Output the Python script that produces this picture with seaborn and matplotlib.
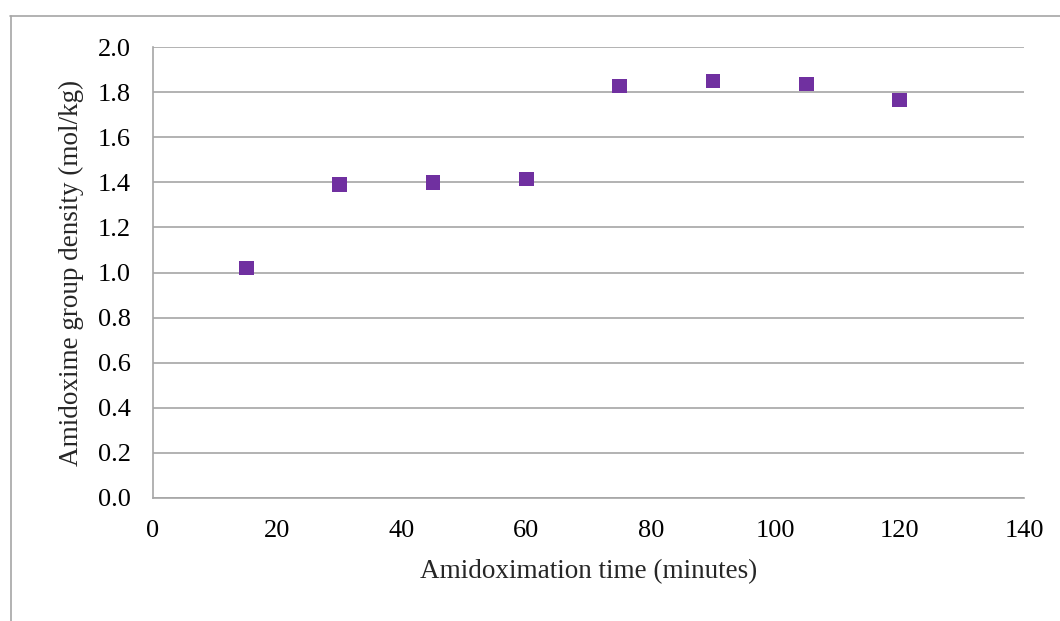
import numpy as np
import pandas as pd
import matplotlib
matplotlib.use("Agg")
import matplotlib.pyplot as plt
import seaborn as sns
from matplotlib.lines import Line2D

time_min = [15, 30, 45, 60, 75, 90, 105, 120]
density = [1.02, 1.39, 1.40, 1.415, 1.827, 1.849, 1.836, 1.765]
x_ticks = [0, 20, 40, 60, 80, 100, 120, 140]
y_ticks = [0.0, 0.2, 0.4, 0.6, 0.8, 1.0, 1.2, 1.4, 1.6, 1.8, 2.0]

df = pd.DataFrame({"time": time_min, "density": density})

sns.set_style("white")
plt.rcParams["font.family"] = ["Liberation Serif", "DejaVu Serif"]

fig = plt.figure(figsize=(10.6, 6.21), dpi=100)
ax = fig.add_axes([153 / 1060, 1 - 498 / 621, (1024 - 153) / 1060, (498 - 47) / 621])

sns.scatterplot(data=df, x="time", y="density", marker="s", s=112,
                color="#7030A0", edgecolor="none", ax=ax, zorder=3)

ax.set_xlim(0, 140)
ax.set_ylim(0, 2.0)
ax.set_xticks(x_ticks)
ax.set_yticks(y_ticks)
ax.set_yticklabels([f"{v:.1f}" for v in y_ticks])
ax.yaxis.grid(True, color="#A6A6A6", lw=1.2)
ax.xaxis.grid(False)
for s in ["top", "right"]:
    ax.spines[s].set_visible(False)
for s in ["left", "bottom"]:
    ax.spines[s].set_color("#A6A6A6")
    ax.spines[s].set_linewidth(1.2)
ax.tick_params(axis="both", length=0, labelsize=19, colors="black")
ax.tick_params(axis="y", pad=16)
ax.tick_params(axis="x", pad=16)
ax.set_xlabel("Amidoximation time (minutes)", fontsize=19.5, labelpad=12)
ax.set_ylabel("Amidoxime group density (mol/kg)", fontsize=19.5, labelpad=10)

# outer chart frame
fig.add_artist(Line2D([10.5 / 1060, 10.5 / 1060], [0, 1 - 15.5 / 621],
                      transform=fig.transFigure, color="#A6A6A6", lw=1.2))
fig.add_artist(Line2D([10 / 1060, 1], [1 - 15.5 / 621, 1 - 15.5 / 621],
                      transform=fig.transFigure, color="#A6A6A6", lw=1.2))

fig.savefig("out.png", dpi=100)
